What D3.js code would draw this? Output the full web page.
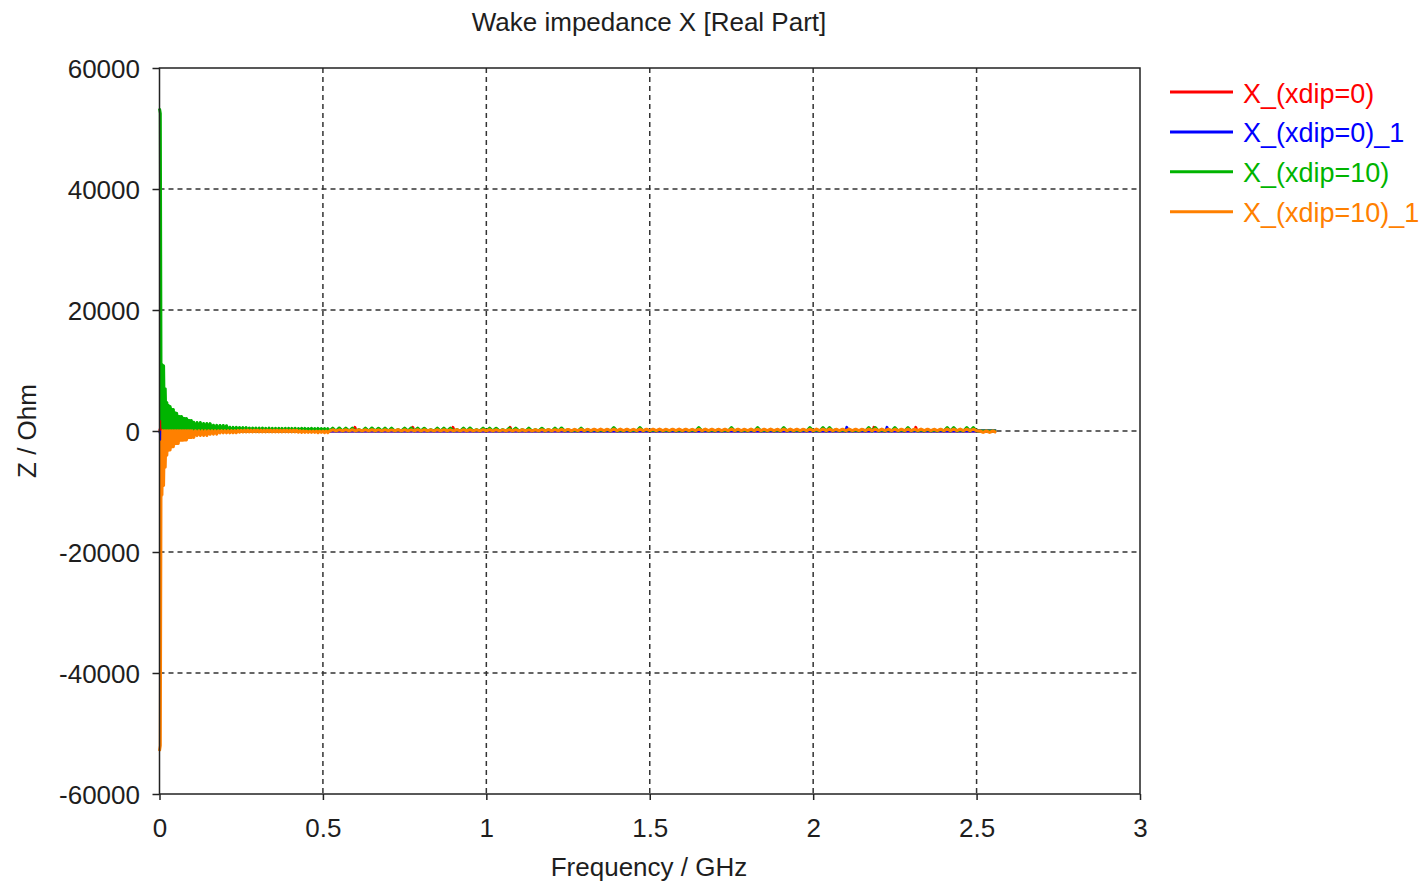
<!DOCTYPE html>
<html><head><meta charset="utf-8">
<script src="https://cdn.jsdelivr.net/npm/d3@7"></script>
<style>
html,body{margin:0;padding:0;background:#fff;}
svg{display:block;}
text{font-family:"Liberation Sans", Arial, sans-serif;}
</style></head><body>
<svg id="chart" width="1426" height="885"></svg>
<script>
// ---------------- data ----------------
const chartTitle = "Wake impedance X [Real Part]";
const xTitle = "Frequency / GHz";
const yTitle = "Z / Ohm";
const xTicks = [0, 0.5, 1, 1.5, 2, 2.5, 3];
const xTickLabels = ["0", "0.5", "1", "1.5", "2", "2.5", "3"];
const yTicks = [60000, 40000, 20000, 0, -20000, -40000, -60000];
const yTickLabels = ["60000", "40000", "20000", "0", "-20000", "-40000", "-60000"];
const seriesNames = ["X_(xdip=0)", "X_(xdip=0)_1", "X_(xdip=10)", "X_(xdip=10)_1"];

// uniform frequency sampling (GHz) of the three segments
const spikeStart = 0, spikeStep = 0.0025;
const midStart = 0.105, midStep = 0.005;
const tailStart = 0.53, tailStep = 0.01;

// X_(xdip=10): Z / Ohm
const greenSpike = [53300, 52500, 2000, 11000, 500, 10800, 300, 7000, 200, 4700, 150, 4200, 100, 4050, 80, 3600, 60, 3550, 50, 3000, 40, 2950, 30, 2450, 20, 2400, 20, 2400, 10, 2100, 10, 2070, 0, 2050, 0, 1780, 0, 1750, 0, 1740, 0];
const greenMid = [1450, 0, 1400, 0, 1400, 0, 1250, 0, 1250, 0, 1220, 0, 950, 0, 930, 0, 920, 0, 900, 0, 880, 0,
  620, 0, 600, 0, 600, 0, 580, 0, 570, 0, 560, 0, 500, 0, 480, 0, 500, 0, 470, 0, 480, 0, 460, 0, 470, 0,
  460, 0, 440, 0, 450, 0, 430, 0, 450, 0, 440, 0, 430, 0, 450, 0, 420, 0, 440, 0, 430, 0, 420, 0, 440, 0, 410, 0, 430, 0, 420, 0, 400, 0, 380, 0];
const greenTail = [
  480, 0, 500, 0, 470, 0, 490, 0, 250, 0, 480, 0, 500, 0, 460, 0, 490, 0, 480, 0,
  250, 0, 470, 0, 500, 0, 480, 0, 460, 0, 250, 0, 490, 0, 480, 0, 470, 0, 250, 0,
  480, 0, 500, 0, 250, 0, 470, 0, 480, 0, 460, 0, 250, 0, 490, 0, 470, 0, 250, 0,
  480, 0, 250, 0, 460, 0, 250, 0, 480, 0, 500, 0, 250, 0, 200, 0, 480, 0, 250, 0,
  250, 0, 200, 0, 250, 0, 550, 0, 200, 0, 250, 0, 200, 0, 550, 0, 250, 0, 200, 0,
  250, 0, 200, 0, 250, 0, 200, 0, 250, 0, 200, 0, 550, 0, 250, 0, 200, 0, 250, 0,
  200, 0, 550, 0, 250, 0, 200, 0, 250, 0, 550, 0, 200, 0, 250, 0, 200, 0, 550, 0,
  250, 0, 200, 0, 250, 0, 560, 0, 200, 0, 550, 0, 560, 0, 250, 0, 200, 0, 250, 0,
  200, 0, 250, 0, 560, 0, 550, 0, 200, 0, 250, 0, 560, 0, 200, 0, 550, 0, 250, 0,
  200, 0, 250, 0, 200, 0, 250, 0, 560, 0, 550, 0, 200, 0, 560, 0, 550, 0, 0, 0,
  0, 0, 0, 0];

// X_(xdip=10)_1: Z / Ohm
const orangeSpike = [-52900, -52000, -1800, -10600, 50, -9000, 50, -6000, 50, -4000, 50, -3200, 50, -3150, 50, -2650, 50, -2600, 50, -2100, 50, -2080, 50, -2050, 50, -1550, 50, -1530, 50, -1520, 50, -1500, 50, -1480, 50, -1100, 50, -1080, 50, -1070, 50];
const orangeMid = [-1060, 50, -760, 50, -750, 50, -740, 50, -740, 50, -540, 50, -530, 50, -520, 50, -320, 50, -300, 50, -300, 50,
  -300, 80, -290, 80, -290, 100, -180, 120, -170, 130, -150, 150, -160, 140, -150, 150, -140, 150, -150, 140, -160, 150,
  -150, 150, -140, 140, -150, 150, -160, 150, -150, 140, -150, 150, -140, 150, -150, 140, -160, 150, -150, 150,
  -200, 50, -220, 30, -230, 0, -250, 0, -240, 0, -250, 0, -260, 0, -250, 0, -270, 0, -260, 0];
const orangeTail = [
  200, 30, 190, 40, 210, 30, 200, 20, 190, 40, 200, 30, 210, 40, 190, 30, 200, 30, 180, 40,
  200, 30, 210, 30, 190, 40, 200, 30, 200, 40, 190, 30, 210, 30, 200, 40, 190, 30, 200, 30,
  210, 40, 200, 30, 190, 30, 200, 40, 210, 30, 200, 30, 190, 40, 200, 30, 210, 30, 200, 40,
  190, 30, 200, 30, 220, 40, 230, 40, 240, 40, 250, 50, 260, 40, 270, 50, 280, 50, 290, 50,
  300, 50, 310, 60, 290, 50, 300, 50, 320, 60, 300, 50, 290, 50, 310, 60, 300, 50, 300, 50,
  310, 60, 290, 50, 300, 50, 320, 60, 300, 50, 290, 50, 300, 60, 310, 50, 300, 50, 290, 60,
  300, 50, 320, 50, 300, 60, 290, 50, 310, 50, 300, 60, 300, 50, 320, 50, 290, 60, 300, 50,
  310, 50, 300, 60, 290, 50, 300, 50, 320, 60, 300, 50, 310, 50, 290, 60, 300, 50, 310, 50,
  300, 60, 290, 50, 320, 50, 300, 60, 310, 50, 300, 50, 290, 60, 300, 50, 320, 50, 300, 60,
  310, 50, 300, 50, 290, 60, 300, 50, 320, 50, 300, 60, 310, 50, 300, 50, 290, 60, 0, -230,
  0, -230, 0, -230];

// X_(xdip=0) and X_(xdip=0)_1: frequency (GHz) and Z / Ohm
const redFreq = [0, 0.0025, 0.005, 0.0075, 0.02, 0.0225, 0.025, 0.0275, 0.0325, 0.035, 0.0375, 0.595, 0.598, 0.601, 0.772, 0.775, 0.778, 0.895, 0.898, 0.901, 1.07, 1.073, 1.076, 2.183, 2.186, 2.189, 2.311, 2.314, 2.317, 2.56];
const redZ = [0, 300, 1600, 200, 0, 700, 300, 0, 0, 150, 0, 0, 600, 0, 0, 600, 0, 0, 600, 0, 0, 600, 0, 0, 600, 0, 0, 600, 0, 0];
const blueFreq = [0, 0.0025, 0.005, 0.0075, 0.02, 0.0225, 0.025, 0.14, 0.1425, 0.145, 2.1, 2.103, 2.106, 2.223, 2.226, 2.229, 2.56];
const blueZ = [0, -300, -1500, -200, 0, -200, 0, 0, 100, 0, 0, 600, 0, 0, 600, 0, 0];

// ---------------- drawing ----------------
const colors = ["#ff0000", "#0000ff", "#00b400", "#ff8000"];
const plot = {left: 159.5, right: 1140, top: 68, bottom: 794};
const textColor = "#1e1e1e";
const fontSize = 26;

const x = d3.scaleLinear().domain([0, 3]).range([plot.left, plot.right]);
const y = d3.scaleLinear().domain([-60000, 60000]).range([plot.bottom, plot.top]);

const gridded = (start, step, vals) => vals.map((v, i) => [start + i * step, v]);
const seriesData = [
  redFreq.map((f, i) => [f, redZ[i]]),
  blueFreq.map((f, i) => [f, blueZ[i]]),
  [...gridded(spikeStart, spikeStep, greenSpike), ...gridded(midStart, midStep, greenMid), ...gridded(tailStart, tailStep, greenTail)],
  [...gridded(spikeStart, spikeStep, orangeSpike), ...gridded(midStart, midStep, orangeMid), ...gridded(tailStart, tailStep, orangeTail)]
];

const svg = d3.select("#chart");
svg.append("rect").attr("width", 1426).attr("height", 885).attr("fill", "#fff");

// grid
const grid = svg.append("g").attr("stroke", "#333").attr("stroke-width", 1.5).attr("stroke-dasharray", "5,4");
grid.selectAll("line.v").data(xTicks.filter(t => t > 0 && t < 3)).join("line")
  .attr("x1", d => x(d)).attr("x2", d => x(d)).attr("y1", plot.top).attr("y2", plot.bottom);
grid.selectAll("line.h").data(yTicks.filter(t => t > -60000 && t < 60000)).join("line")
  .attr("y1", d => y(d)).attr("y2", d => y(d)).attr("x1", plot.left).attr("x2", plot.right);

// series
const line = d3.line().x(d => x(d[0])).y(d => y(d[1]));
svg.append("g").selectAll("path").data(seriesData).join("path")
  .attr("d", line).attr("fill", "none")
  .attr("stroke", (d, i) => colors[i]).attr("stroke-width", 3)
  .attr("stroke-linejoin", "round");

// axes
const yAxis = d3.axisLeft(y).tickValues(yTicks).tickFormat((d, i) => yTickLabels[i]).tickSize(7).tickPadding(12.5);
const xAxis = d3.axisBottom(x).tickValues(xTicks).tickFormat((d, i) => xTickLabels[i]).tickSize(6).tickPadding(18.5);
const gy = svg.append("g").attr("transform", `translate(${plot.left},0)`).call(yAxis);
const gx = svg.append("g").attr("transform", `translate(0,${plot.bottom})`).call(xAxis);
[gx, gy].forEach(g => {
  g.select(".domain").remove();
  g.selectAll(".tick line").attr("stroke", "#222").attr("stroke-width", 1.5);
  g.selectAll(".tick text").attr("fill", textColor).attr("font-size", fontSize)
    .attr("font-family", "'Liberation Sans', Arial, sans-serif");
});
gy.selectAll(".tick text").attr("dy", "0.36em");

// frame
svg.append("rect").attr("x", plot.left).attr("y", plot.top)
  .attr("width", plot.right - plot.left).attr("height", plot.bottom - plot.top)
  .attr("fill", "none").attr("stroke", "#222").attr("stroke-width", 1.5);

// titles
svg.append("text").attr("x", 649).attr("y", 31).attr("text-anchor", "middle")
  .attr("font-size", fontSize).attr("fill", textColor).text(chartTitle);
svg.append("text").attr("x", 649).attr("y", 876).attr("text-anchor", "middle")
  .attr("font-size", fontSize).attr("fill", textColor).text(xTitle);
svg.append("text").attr("transform", "translate(35.5,431) rotate(-90)").attr("text-anchor", "middle")
  .attr("font-size", fontSize).attr("fill", textColor).text(yTitle);

// legend
const legend = svg.append("g").selectAll("g").data(seriesNames).join("g")
  .attr("transform", (d, i) => `translate(1170,${92 + i * 39.9})`);
legend.append("line").attr("x1", 0).attr("x2", 63).attr("y1", 0).attr("y2", 0)
  .attr("stroke", (d, i) => colors[i]).attr("stroke-width", 3);
legend.append("text").attr("x", 73).attr("y", 10.5).attr("font-size", 27)
  .attr("fill", (d, i) => colors[i]).text(d => d);
</script>
</body></html>
